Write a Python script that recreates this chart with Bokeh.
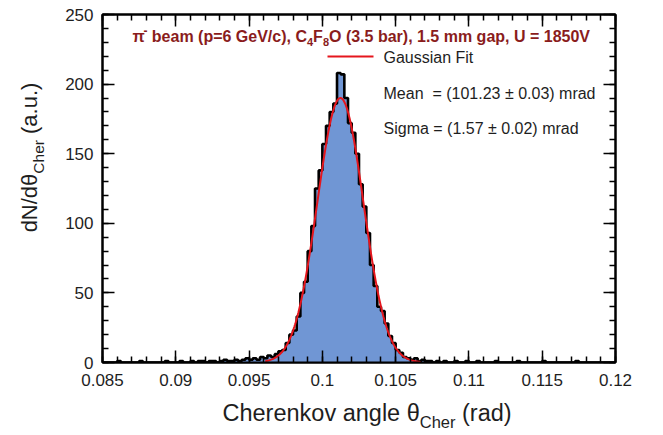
import math
from bokeh.plotting import figure
from bokeh.layouts import column, row
from bokeh.models import (FixedTicker, LinearAxis, Label, Range1d, BoxAnnotation)
from bokeh.embed import file_html
from bokeh.resources import INLINE

# ---------------- data ----------------
BIN_LOW = 0.085          # rad, left edge of first bin
BIN_WIDTH = 0.00025      # rad
COUNTS = [
    0, 0, 0, 0, 1, 0, 0, 0, 0, 0,
    1, 0, 0, 0, 0, 0, 0, 1, 0, 0,
    0, 1, 0, 0, 1, 0, 1, 1, 0, 1,
    1, 0, 1, 2, 1, 1, 2, 1, 2, 3,
    2, 3, 2, 4, 3, 5, 4, 6, 8, 9,
    14, 20, 23, 33, 50, 58, 80, 98, 125, 138,
    157, 170, 180, 186, 208, 207, 190, 172, 165, 150,
    128, 112, 93, 70, 55, 40, 37, 28, 19, 14,
    9, 7, 4, 3, 2, 3, 1, 2, 1, 1,
    0, 1, 0, 1, 0, 0, 1, 0, 0, 1,
    0, 0, 1, 0, 0, 0, 0, 1, 0, 0,
    0, 0, 0, 1, 0, 0, 0, 0, 0, 0,
    1, 0, 0, 0, 0, 0, 0, 0, 0, 1,
    0, 0, 0, 0, 0, 0, 0, 0, 0, 0,
]
FIT_MEAN_MRAD = 101.23
FIT_SIGMA_MRAD = 1.57
FIT_AMPLITUDE = 190.0
FIT_RANGE = [0.0961, 0.1067]

X_TICKS = [0.085, 0.09, 0.095, 0.1, 0.105, 0.11, 0.115, 0.12]
X_TICK_LABELS = ["0.085", "0.09", "0.095", "0.1", "0.105", "0.11", "0.115", "0.12"]
Y_TICKS = [0, 50, 100, 150, 200, 250]
Y_TICK_LABELS = ["0", "50", "100", "150", "200", "250"]

LEGEND_LABEL = "Gaussian Fit"
MEAN_TEXT = "Mean \u00a0= (101.23 \u00b1 0.03) mrad"
SIGMA_TEXT = "Sigma = (1.57 \u00b1 0.02) mrad"

# ---------------- layout ----------------
W, H = 663, 435
YW = 55                  # width of the y-title strip
MAIN_H = 395             # height of the main plot (x-title strip below it)
FL, FR, FT, FB = 102, 615, 14, 362   # frame edges in page pixels
FONT = "Liberation Sans"
TXT = "#1e1e1e"
TITLE_RED = "#8a1c1c"
FIT_RED = "#e5161d"

REG = {" ": 278, "(": 333, ")": 333, ",": 278, "-": 333, ".": 278, "/": 278, "=": 584,
       "\u00b1": 584, "A": 667, "C": 722, "F": 611, "G": 778, "M": 833, "N": 722, "O": 778,
       "S": 667, "U": 722, "V": 667, "a": 556, "b": 556, "c": 500, "d": 556, "e": 556,
       "g": 556, "h": 556, "i": 222, "k": 500, "l": 222, "m": 833, "n": 556, "o": 556,
       "p": 556, "r": 333, "s": 500, "t": 278, "u": 556, "v": 500, "\u03b8": 556, "\u03c0": 600}
BOLD = dict(REG)
BOLD.update({"b": 611, "c": 556, "g": 611, "m": 889, "p": 611, "r": 389, "d": 611, "\u03c0": 680})


def tw(text, size, bold=False):
    tab = BOLD if bold else REG
    return sum(tab.get(ch, 556) for ch in text) * size / 1000.0


def make_label(text, sx, sy, size, color=TXT, bold=False, align="left", baseline="middle", angle=0.0):
    return Label(x=sx, y=sy, x_units="screen", y_units="screen", text=text,
                 text_font=FONT, text_font_size=f"{size}px", text_color=color,
                 text_font_style="bold" if bold else "normal", text_align=align,
                 text_baseline=baseline, angle=angle, angle_units="rad")


def run_text(fig, parts, x0, y0, to_screen, color=TXT, bold=False, vertical=False):
    """Place a run of text pieces (text, size, shift) one after the other.
    (x0, y0) is the middle of the first piece in page pixels; shift moves a
    piece down (subscript, > 0) or up (superscript, < 0)."""
    pos = 0.0
    for text, size, shift in parts:
        stripped = text.lstrip(" ")
        pos += tw(text[:len(text) - len(stripped)], size, bold)
        if vertical:
            cx, cy, ang = x0 + shift, y0 - pos, math.pi / 2
        else:
            cx, cy, ang = x0 + pos, y0 + shift, 0.0
        sx, sy = to_screen(cx, cy)
        fig.add_layout(make_label(stripped, sx, sy, size, color=color, bold=bold,
                                  baseline="middle", angle=ang))
        pos += tw(stripped, size, bold)


def text_strip(width, height):
    f = figure(width=width, height=height, output_backend="svg", toolbar_location=None,
               x_range=Range1d(0, width), y_range=Range1d(0, height), min_border=0,
               x_axis_location=None, y_axis_location=None)
    f.outline_line_color = None
    f.xgrid.visible = False
    f.ygrid.visible = False
    f.background_fill_color = "white"
    f.border_fill_color = "white"
    return f


# ---------------- main plot ----------------
p = figure(width=W - YW, height=MAIN_H, output_backend="svg", toolbar_location=None,
           x_range=Range1d(0.085, 0.12), y_range=Range1d(0, 250),
           min_border_left=FL - YW, min_border_right=W - FR, min_border_top=FT,
           min_border_bottom=MAIN_H - FB, x_axis_location=None, y_axis_location=None)
p.background_fill_color = "white"
p.border_fill_color = "white"
p.outline_line_color = "black"
p.outline_line_width = 2
p.xgrid.visible = False
p.ygrid.visible = False

n = len(COUNTS)
edges = [BIN_LOW + i * BIN_WIDTH for i in range(n + 1)]
heights = COUNTS + [COUNTS[-1]]
p.varea_step(x=edges, y1=[0] * (n + 1), y2=heights, step_mode="after", fill_color="#7096d4")
p.step(x=edges, y=heights, mode="after", line_color="black", line_width=2.6)

mu = FIT_MEAN_MRAD / 1000.0
sg = FIT_SIGMA_MRAD / 1000.0
npts = 240
fx = [FIT_RANGE[0] + (FIT_RANGE[1] - FIT_RANGE[0]) * k / (npts - 1) for k in range(npts)]
fy = [FIT_AMPLITUDE * math.exp(-0.5 * ((v - mu) / sg) ** 2) for v in fx]
p.line(x=fx, y=fy, line_color=FIT_RED, line_width=2)

x_minor = [round(0.085 + 0.001 * k, 3) for k in range(36)]
y_minor = list(range(0, 251, 10))


def style_axis(ax, ticks, minor, labels, show):
    ax.ticker = FixedTicker(ticks=ticks, minor_ticks=minor)
    ax.axis_line_width = 2
    ax.axis_line_color = "black"
    ax.major_tick_line_width = 1.5
    ax.minor_tick_line_width = 1.5
    ax.major_tick_in = 12
    ax.major_tick_out = 0
    ax.minor_tick_in = 6
    ax.minor_tick_out = 0
    ax.major_label_text_font = FONT
    ax.major_label_text_color = TXT
    ax.major_label_text_font_size = "17px" if show else "0px"
    ax.major_label_standoff = 11 if show else 0
    ax.major_label_overrides = {t: (l if show else "") for t, l in zip(ticks, labels)}


xb = LinearAxis(); style_axis(xb, X_TICKS, x_minor, X_TICK_LABELS, True)
xt = LinearAxis(); style_axis(xt, X_TICKS, x_minor, X_TICK_LABELS, False)
yl = LinearAxis(); style_axis(yl, Y_TICKS, y_minor, Y_TICK_LABELS, True)
yl.major_label_standoff = 9
yr = LinearAxis(); style_axis(yr, Y_TICKS, y_minor, Y_TICK_LABELS, False)
p.add_layout(xb, "below")
p.add_layout(xt, "above")
p.add_layout(yl, "left")
p.add_layout(yr, "right")


def main_screen(cx, cy):
    return cx - FL, FB - cy


# legend: sample line + label
l_left, l_top = main_screen(327, 55)
l_right, l_bot = main_screen(373, 57)
p.add_layout(BoxAnnotation(left=l_left, right=l_right, top=l_top, bottom=l_bot,
                           left_units="screen", right_units="screen",
                           top_units="screen", bottom_units="screen",
                           fill_color=FIT_RED, fill_alpha=1.0, line_color=None))
sx, sy = main_screen(383, 57)
p.add_layout(make_label(LEGEND_LABEL, sx, sy, 16))

for txt, cy in ((MEAN_TEXT, 93), (SIGMA_TEXT, 128)):
    sx, sy = main_screen(383, cy)
    p.add_layout(make_label(txt, sx, sy, 16))

run_text(p, [("\u03c0", 16, 0), ("-", 12, -6), (" beam (p=6 GeV/c), C", 16, 0), ("4", 11, 5),
             ("F", 16, 0), ("8", 11, 5), ("O (3.5 bar), 1.5 mm gap, U = 1850V", 16, 0)],
         132, 36, main_screen, color=TITLE_RED, bold=True)

# ---------------- axis-title strips ----------------
ystrip = text_strip(YW, MAIN_H)
y_parts = [("dN/d\u03b8", 22, 0), ("Cher", 15.5, 9), (" (a.u.)", 22, 0)]
y_len = sum(tw(t, s) for t, s, _ in y_parts)
run_text(ystrip, y_parts, 29, 190 + y_len / 2, lambda cx, cy: (cx, MAIN_H - cy), vertical=True)

XH = H - MAIN_H
xstrip = text_strip(W, XH)
run_text(xstrip, [("Cherenkov angle \u03b8", 23.5, 0), ("Cher", 16.5, 9), (" (rad)", 23.5, 0)],
         222, 412, lambda cx, cy: (cx, XH - (cy - MAIN_H)))

layout = column(row(ystrip, p, spacing=0), xstrip, spacing=0)
open("out.html", "w").write(file_html(layout, INLINE))
